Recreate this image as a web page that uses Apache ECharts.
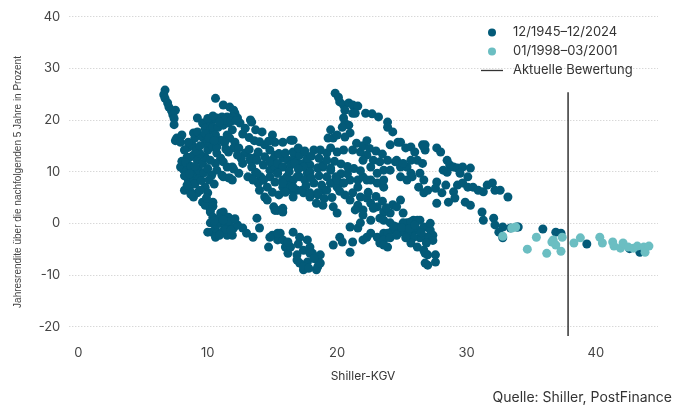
<!DOCTYPE html>
<html><head><meta charset="utf-8">
<script src="https://cdn.jsdelivr.net/npm/echarts@6/dist/echarts.min.js"></script>
<style>html,body{margin:0;padding:0;background:#fff}#c{width:674px;height:409px}</style>
</head><body><div id="c"></div>
<script>
// Shiller-KGV (x) vs. annualised return over following 5 years in % (y)
const tailLeft = [[6.7,25.8],[6.6,24.9],[6.7,24.2],[6.9,23.3],[7.0,22.5],[7.2,21.8],[7.5,21.9],[7.3,21.0],[7.4,20.3],[7.4,19.1],[7.6,16.5],[8.0,17.1],[7.5,16.0]];
const leftCluster = [[7.9,10.9],[8.1,10.5],[8.4,10.3],[8.5,11.3],[8.4,12.8],[8.6,12.8],[8.9,13.2],[9.2,12.2],[8.5,14.7],[8.8,15.2],[9.0,16.5],[8.9,17.5],[9.2,17.7],[9.6,16.7],[8.5,8.4],[8.9,8.4],[9.2,9.0],[8.2,6.4],[8.6,6.4],[8.9,5.1],[9.2,5.9],[9.8,7.0],[10.0,5.9],[9.6,4.1],[10.0,3.5],[10.4,4.1],[8.8,9.7],[9.3,10.3],[9.6,11.6],[9.8,12.8],[10.0,14.2],[9.8,15.5],[10.2,15.5],[10.4,14.8],[10.7,13.6],[11.0,12.6],[11.2,11.9],[11.5,10.9],[11.9,10.9],[11.1,9.3],[11.6,8.8],[12.0,10.5],[10.6,11.6],[10.2,12.2],[10.7,10.3],[10.3,9.3],[7.9,15.7],[8.5,15.7],[8.2,14.2],[9.8,3.5],[10.4,3.3],[10.2,2.6],
  [8.0,12.0],[8.3,11.8],[8.7,11.0],[9.0,11.0],[9.4,13.5],[9.1,14.0],[9.4,15.0],[8.2,9.2],[8.6,9.6],[9.0,7.6],[8.4,7.4],[9.5,8.3],[9.7,9.8],[10.0,10.6],[9.4,6.4],[8.7,5.6],[9.9,4.9],[10.1,8.4],[10.5,7.6]];
const upperBand = [[10.6,24.2],[11.2,22.9],[11.7,22.5],[12.0,21.9],[12.1,21.3],[12.3,20.4],[11.9,20.6],[11.5,20.6],[11.1,20.6],[10.7,20.4],[10.3,20.0],[10.0,19.6],[9.2,20.4],[9.6,19.4],[9.8,18.4],[10.2,18.0],[10.4,18.6],[10.8,18.6],[11.2,19.0],[11.6,19.4],[11.9,18.1],[11.5,17.1],[11.7,16.5],[12.1,15.7],[12.0,14.6],[12.4,14.6],[11.6,13.8],[10.7,14.8],[11.0,16.1],[10.6,17.1],[12.5,19.4],[12.9,18.4],[13.4,19.6],[13.3,20.0],[13.7,18.1],[14.2,17.7],[15.0,17.1],[15.2,15.7],[15.8,15.7],[16.5,16.1],[14.4,15.2],[14.8,14.2],[13.7,12.8],[13.3,12.2],[12.9,13.6],[12.7,11.6],[13.4,10.9],[13.7,9.9],[14.1,9.0],[13.9,7.8],[14.3,8.4],[14.8,10.3],[15.2,10.9],[15.4,9.7],[15.8,8.4],[16.2,7.8],[16.5,6.4],[15.8,7.0],[14.4,5.1],[15.1,3.2],[15.4,2.5],[15.8,2.9],[13.4,8.8],[13.1,9.0],[11.9,8.4],[11.2,9.0],[11.7,8.8],[12.4,9.7],[15.2,13.2],[15.8,12.6],[16.2,12.2],[16.7,12.8],[14.6,4.5],
  [10.0,20.3],[10.4,20.8],[11.3,20.0],[11.8,19.8],[12.2,19.9],[10.9,19.6],[9.8,17.4],[10.1,16.5],[10.5,16.0],[11.3,15.6],[11.4,14.4],[12.7,17.3],[13.2,16.6],[13.6,16.0],[14.0,15.8],[14.7,15.9],[13.2,14.3],[13.9,13.8],[14.4,12.9],[15.0,12.3],[12.6,12.5],[12.3,13.2]];
const bottomLeft = [[10.2,2.2],[10.4,1.2],[11.0,2.0],[11.2,2.2],[11.6,1.2],[10.2,0.1],[10.6,-0.7],[11.0,0.1],[11.3,-0.7],[11.7,0.3],[12.0,-0.9],[10.3,-1.7],[10.7,-1.9],[11.1,-1.7],[11.5,-2.3],[11.9,-2.3],[10.6,-2.7],[10.0,-1.7],[12.7,-0.9],[13.0,-1.9],[13.5,-2.7],[13.8,1.0],[14.0,-0.9],[14.7,-4.6],[15.0,-2.3],[15.6,-1.9],[15.4,-3.2],[16.0,-4.6],[16.2,-5.8],[15.2,2.5],[15.8,2.2],[10.9,1.0],[11.4,-1.2],
  [10.5,0.5],[11.2,0.7],[11.8,-1.3],[10.9,-2.3],[12.3,-0.3],[12.1,0.9]];
const middleMass = [[13.3,12.6],[13.8,12.2],[14.3,11.3],[14.8,11.9],[15.4,11.6],[15.8,10.9],[16.4,11.3],[16.9,11.9],[17.4,11.6],[17.9,11.3],[18.5,10.7],[18.9,10.9],[19.5,10.3],[17.7,9.7],[17.1,9.0],[16.6,8.4],[16.1,9.0],[15.8,7.8],[16.4,7.0],[16.9,6.4],[17.4,5.9],[17.9,5.1],[18.5,5.5],[18.9,6.4],[19.5,7.8],[20.0,7.0],[20.5,7.8],[21.0,8.4],[21.6,8.4],[22.0,9.0],[22.6,8.4],[23.1,7.8],[23.6,7.0],[14.8,9.0],[14.3,8.4],[15.4,9.7],[13.8,9.7],[13.5,8.4],[14.0,6.4],[14.6,7.0],[16.6,13.8],[17.1,13.2],[17.7,12.6],[18.2,14.2],[18.7,14.2],[19.2,13.6],[16.7,11.6],[17.4,10.9],[17.9,9.9],[18.5,10.7],[18.9,11.3],[19.5,10.7],[16.9,9.0],[17.5,8.4],[18.2,7.8],[18.8,7.4],[19.5,7.8],[16.6,7.0],[17.3,6.4],[17.9,5.9],[18.5,5.9],[19.2,6.4],[16.6,5.1],[18.4,3.9],[18.9,3.5],[16.4,16.1],[16.6,16.1],[19.5,14.6],[20.0,13.8],[20.5,14.2],[21.2,14.2],[21.8,13.8],[22.3,13.2],[22.8,12.2],[23.3,11.9],[23.9,12.2],[23.6,10.3],[24.6,12.2],[24.9,10.9],[25.4,10.9],[25.7,9.7],
  [15.5,13.5],[16.0,13.6],[17.0,14.6],[17.5,14.0],[18.0,13.0],[18.6,12.6],[19.2,12.2],[19.8,12.0],[20.3,11.5],[20.8,11.0],[21.3,10.6],[21.8,10.2],[20.3,9.6],[20.8,9.6],[19.9,9.0],[15.2,8.0],[15.0,6.0],[15.5,5.5],[16.0,6.0],[18.0,8.8],[18.6,9.2],[19.2,9.0],[17.6,7.3],[16.3,10.0],[17.0,10.5],[19.0,4.8],
  [21.5,15.5],[22.0,15.0],[22.5,14.5],[23.0,14.0],[23.5,13.4],[22.3,16.0]];
const dip = [[16.6,-1.7],[17.1,-2.7],[17.7,-3.2],[17.9,-4.6],[17.4,-5.2],[18.1,-5.8],[18.5,-7.1],[18.7,-6.1],[17.7,-7.5],[17.1,-7.7],[17.4,-9.0],[18.4,-9.0],[16.9,-6.1],[16.9,-7.1],[17.4,-8.4],[18.5,-8.4],[18.7,-7.7],[17.9,-5.8],[16.4,-4.6],[15.8,-3.2],[15.4,-1.9],[14.8,-2.7],[17.0,-4.0],[18.2,-6.8],[17.8,-8.7],[16.2,-3.6]];
const peak = [[19.85,25.2],[20.1,24.4],[20.2,23.5],[20.5,22.9],[20.9,23.3],[21.2,22.9],[21.6,22.7],[20.6,21.9],[21.2,21.3],[21.4,21.3],[20.5,20.4],[20.6,19.4],[20.9,19.0],[20.4,18.6],[21.0,17.5],[20.6,16.7],[19.5,18.1],[19.3,16.5],[19.7,16.5],[20.0,17.1],[22.2,21.3],[22.7,21.2],[23.2,20.6],[23.9,19.6],[23.9,18.6],[24.3,17.7],[24.1,15.2],[24.7,15.7],[24.9,15.7],[25.3,14.6],[25.7,14.8],[26.0,13.8],[26.6,15.2],[26.8,15.2],[26.8,14.2],[26.2,12.2]];
const rightMid = [[22.0,12.2],[22.6,10.9],[23.1,9.7],[23.6,8.4],[22.3,8.4],[24.1,10.3],[24.5,11.9],[24.9,9.0],[25.4,8.4],[25.8,9.0],[26.3,7.0],[26.7,5.9],[25.1,11.6],[25.7,12.2],[26.6,11.6],[26.7,14.8],[27.7,14.6],[28.0,13.8],[28.5,12.2],[28.7,11.3],[29.0,10.9],[29.3,10.7],[29.7,10.9],[30.3,10.7],[29.5,9.7],[30.1,9.0],[28.5,9.9],[28.2,10.3],[26.4,9.7],[26.7,8.4],[27.0,6.4],[27.7,8.0],[27.6,6.8],[28.4,7.4],[28.1,5.9],[29.0,6.1],[29.3,7.4],[29.7,7.8],[30.1,7.0],[30.5,7.0],[30.9,6.4],[31.6,7.4],[32.0,7.8],[32.2,6.4],[32.6,6.4],[33.2,5.1],[31.3,6.1],[29.1,4.9],[28.6,4.1],[27.7,3.9],[29.9,4.1],[30.3,3.5],[31.2,2.2],[31.3,0.6],[32.1,1.0],[32.2,-0.3],[32.8,-0.7],[32.5,-1.7],[33.4,-0.9],[33.9,-0.7]];
const middleLow = [[20.0,8.4],[20.5,7.8],[21.6,7.0],[21.2,5.9],[21.8,5.1],[22.3,4.9],[22.6,3.9],[23.1,3.2],[23.6,2.2],[24.1,2.0],[22.0,2.6],[21.6,3.5],[19.7,3.2],[20.0,2.0],[21.0,4.5],[21.4,2.6],[22.0,1.6],[22.6,0.6],[23.3,1.0],[22.8,2.9],[21.0,-0.7],[21.6,-0.9],[21.8,0.1],[22.3,-2.7],[22.6,-1.9],[23.1,-2.7],[23.3,-3.8],[23.6,-1.9],[23.9,-4.6],[22.0,-3.2],[20.2,-2.7],[19.7,-4.2],[20.4,-3.6],[21.2,-3.6],[21.0,-5.6],
  [20.6,5.5],[20.2,6.2],[19.6,5.0],[22.4,6.0],[23.0,5.2],[23.5,4.3],[24.3,3.6],[23.8,3.0]];
const lowerRight = [[24.9,4.5],[24.6,3.2],[25.1,2.0],[25.4,0.1],[25.9,0.6],[26.4,0.6],[27.0,-0.7],[26.2,-1.3],[26.7,-2.7],[25.7,-1.9],[25.1,-1.3],[23.6,0.6],[24.1,0.1],[24.6,-0.7],[25.1,0.1],[25.7,0.3],[26.2,0.6],[26.7,-0.7],[27.2,-1.3],[27.4,-2.3],[27.0,-2.7],[26.4,-2.8],[25.9,-2.7],[25.4,-1.9],[24.9,-1.7],[24.3,-1.3],[23.9,-1.9],[23.6,-3.2],[24.1,-2.8],[25.7,-3.8],[26.2,-4.6],[26.7,-5.2],[27.0,-6.1],[27.6,-6.1],[27.6,-7.5],[27.0,-8.1],[23.6,-4.2],[26.8,-5.8],[26.8,-7.7],
  [24.4,-0.5],[25.0,-0.8],[25.6,-1.0],[26.0,-0.3],[26.5,-1.8],[27.2,0.0],[27.4,-3.3],[26.9,-3.8],[25.3,-2.8],[24.6,-2.3]];
const tailRight = [[34.0,-0.7],[35.9,-1.1],[36.9,-1.7],[37.3,-1.9],[39.3,-4.0],[42.6,-4.9],[43.4,-5.6],[32.8,-2.8]];
const bubble = [[32.8,-2.5],[33.5,-0.9],[33.8,-0.7],[34.7,-5.0],[35.4,-2.7],[36.2,-5.8],[36.7,-3.2],[36.6,-3.6],[36.9,-4.2],[37.3,-5.4],[37.4,-2.7],[38.3,-3.8],[38.8,-2.8],[40.3,-2.7],[40.5,-3.8],[41.3,-3.6],[41.4,-4.4],[41.9,-4.8],[42.1,-3.8],[42.5,-4.6],[42.9,-4.8],[43.2,-4.4],[43.7,-4.6],[43.8,-5.6],[44.1,-4.4]];
const currentCape = 37.85;
const currentLineRange = [-21.8, 25.4];
const xTicks = [0, 10, 20, 30, 40];
const yTicks = [-20, -10, 0, 10, 20, 30, 40];
const seriesNames = ['12/1945–12/2024', '01/1998–03/2001', 'Aktuelle Bewertung'];

const allData = [].concat(tailLeft, leftCluster, upperBand, bottomLeft, middleMass, dip, peak, rightMid, middleLow, lowerRight, tailRight);
const FONT = 'Inter';
const chart = echarts.init(document.getElementById('c'), null, {renderer: 'canvas'});
chart.setOption({
  animation: false,
  grid: {left: 69.3, right: 16, top: 16.7, bottom: 72},
  legend: {
    orient: 'vertical', left: 481, top: 25, itemWidth: 22, itemHeight: 8, itemGap: 4, padding: 0,
    textStyle: {fontFamily: FONT, fontSize: 13, color: '#333', lineHeight: 15, padding: [0,0,0,5]},
    data: [{name: seriesNames[0], icon: 'circle'}, {name: seriesNames[1], icon: 'circle'},
           {name: seriesNames[2], icon: 'path://M0 0H22V1.3H0Z', itemStyle: {color: '#333'}}]
  },
  xAxis: {
    type: 'value', min: -0.7, max: 44.8,
    axisLine: {show: false}, axisTick: {show: false, customValues: xTicks}, splitLine: {show: false},
    axisLabel: {customValues: xTicks, margin: 10, fontFamily: FONT, fontSize: 13, color: '#444'}
  },
  yAxis: {
    type: 'value', min: -22, max: 40,
    axisLine: {show: false}, axisTick: {show: false, customValues: yTicks},
    splitLine: {show: true, lineStyle: {color: '#c8c8c8', width: 1, type: [1, 2]}},
    axisLabel: {customValues: yTicks, margin: 9, fontFamily: FONT, fontSize: 13, color: '#444'}
  },
  series: [
    {name: seriesNames[0], type: 'scatter', data: allData, symbolSize: 9, itemStyle: {color: '#035a78', opacity: 1}, z: 2},
    {name: seriesNames[1], type: 'scatter', data: bubble, symbolSize: 9, itemStyle: {color: '#6bbec2', opacity: 1}, z: 3},
    {name: seriesNames[2], type: 'line', data: [[currentCape, currentLineRange[0]], [currentCape, currentLineRange[1]]],
     symbol: 'none', lineStyle: {color: '#333', width: 1.5}, itemStyle: {color: '#333'}, z: 4}
  ],
  graphic: [
    {type: 'text', x: 18, y: 182, rotation: Math.PI / 2,
     style: {text: 'Jahresrendite über die nachfolgenden 5 Jahre in Prozent', font: '10px "Liberation Sans"', fill: '#444', align: 'center', verticalAlign: 'middle'}},
    {type: 'text', x: 363, y: 376, style: {text: 'Shiller-KGV', font: '12px ' + FONT, fill: '#333', align: 'center', verticalAlign: 'middle'}},
    {type: 'text', x: 672, y: 398, style: {text: 'Quelle: Shiller, PostFinance', font: '14px ' + FONT, fill: '#333', align: 'right', verticalAlign: 'middle'}}
  ]
});
</script>
</body></html>
